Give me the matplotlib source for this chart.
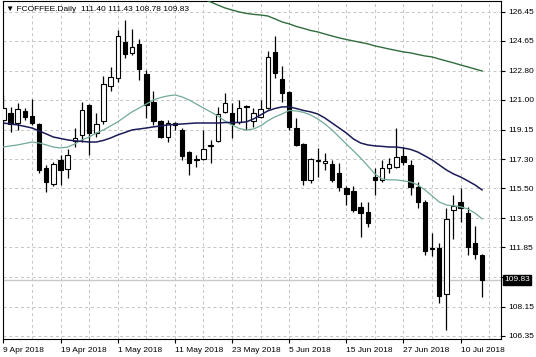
import matplotlib
matplotlib.use('Agg')
import matplotlib.pyplot as plt
import matplotlib.transforms as mtransforms
import numpy as np

plt.rcParams['font.family'] = ['Liberation Sans', 'DejaVu Sans']

# ==== daily candles, 9 Apr 2018 .. 13 Jul 2018 ====
opens = [119.75, 120.18, 119.56, 120.31, 120.00, 119.50, 116.77, 115.78, 117.27, 116.71,
         118.45, 118.82, 120.68, 118.94, 119.69, 121.86, 122.36, 124.59, 123.91, 124.47,
         122.60, 120.87, 119.69, 118.69, 119.56, 119.13, 117.76, 117.33, 117.33, 118.14,
         118.45, 120.25, 120.18, 119.63, 120.62, 119.69, 119.94, 120.49, 123.97, 122.29,
         121.49, 119.25, 118.26, 116.03, 117.18, 117.08, 117.02, 116.46, 115.53, 115.34,
         114.36, 114.04, 116.21, 116.03, 116.77, 116.83, 117.52, 116.96, 115.59, 114.66,
         111.81, 111.81, 108.96, 114.17, 114.66, 113.98, 112.12, 111.40]
highs = [121.30, 120.56, 120.81, 120.49, 121.05, 119.56, 116.96, 117.14, 117.58, 117.95,
         119.25, 120.87, 120.75, 120.18, 122.48, 123.04, 125.33, 125.95, 125.40, 124.78,
         122.85, 121.55, 119.75, 119.75, 119.63, 119.25, 117.82, 117.58, 119.13, 118.51,
         120.56, 121.43, 120.81, 120.99, 120.68, 120.49, 120.99, 124.03, 124.96, 123.10,
         121.55, 119.87, 118.32, 117.39, 118.01, 117.70, 117.27, 117.08, 115.66, 115.66,
         114.66, 114.66, 116.77, 117.27, 117.39, 119.25, 118.07, 117.27, 115.90, 114.79,
         112.74, 112.12, 114.29, 115.10, 115.53, 114.36, 113.17, 111.43]
lows = [119.44, 119.01, 119.13, 119.75, 119.44, 116.46, 115.29, 115.66, 115.72, 116.15,
        118.07, 118.38, 117.58, 118.69, 119.50, 121.55, 122.11, 123.60, 123.78, 122.23,
        119.87, 119.44, 118.63, 118.38, 119.13, 117.27, 116.34, 116.83, 117.27, 117.08,
        118.38, 120.20, 118.63, 119.50, 119.13, 119.32, 119.87, 120.43, 122.36, 120.87,
        119.13, 118.14, 115.72, 115.84, 116.21, 116.65, 115.90, 115.34, 114.48, 114.04,
        112.50, 113.11, 115.10, 115.90, 116.46, 116.77, 116.96, 115.10, 114.29, 111.38,
        111.31, 108.40, 106.72, 112.37, 113.42, 111.38, 111.13, 108.78]
closes = [120.49, 119.50, 120.43, 119.94, 119.56, 116.65, 115.90, 117.02, 116.65, 117.58,
          118.63, 120.37, 118.94, 119.50, 121.98, 122.42, 124.96, 123.84, 124.28, 122.91,
          120.68, 119.69, 118.69, 119.56, 119.44, 117.52, 117.08, 117.27, 117.95, 118.20,
          120.12, 120.81, 119.50, 120.49, 120.56, 120.18, 120.43, 123.66, 122.67, 121.43,
          119.32, 118.20, 116.03, 117.33, 117.24, 117.21, 116.03, 115.59, 115.16, 114.17,
          113.98, 113.36, 116.03, 116.77, 117.02, 117.46, 117.14, 115.59, 114.66, 111.62,
          111.75, 108.83, 113.61, 114.42, 114.29, 111.87, 111.44, 109.83]

# ==== moving averages (as drawn) ====
ma_navy = [119.56, 119.50, 119.44, 119.35, 119.25, 119.07, 118.88, 118.69, 118.60, 118.51,
           118.45, 118.42, 118.38, 118.38, 118.48, 118.63, 118.82, 118.97, 119.13, 119.19,
           119.25, 119.32, 119.38, 119.44, 119.47, 119.50, 119.53, 119.56, 119.56, 119.56,
           119.56, 119.59, 119.59, 119.59, 119.63, 119.81, 120.06, 120.31, 120.46, 120.56,
           120.56, 120.46, 120.34, 120.25, 120.12, 119.87, 119.56, 119.25, 118.94, 118.57,
           118.32, 118.20, 118.14, 118.11, 118.07, 118.07, 118.01, 117.92, 117.76, 117.52,
           117.27, 116.96, 116.65, 116.40, 116.21, 115.97, 115.72, 115.41]
ma_teal = [118.07, 118.14, 118.20, 118.29, 118.38, 118.32, 118.20, 118.07, 118.01, 118.07,
           118.26, 118.51, 118.69, 118.94, 119.13, 119.38, 119.63, 119.94, 120.25, 120.49,
           120.74, 120.99, 121.14, 121.24, 121.30, 121.18, 120.99, 120.74, 120.49, 120.25,
           120.00, 119.69, 119.44, 119.22, 119.13, 119.19, 119.38, 119.69, 119.94, 120.12,
           120.34, 120.31, 120.22, 120.06, 119.81, 119.50, 119.13, 118.69, 118.26, 117.83,
           117.39, 116.90, 116.40, 116.09, 116.03, 116.03, 115.97, 115.90, 115.72, 115.41,
           115.04, 114.66, 114.48, 114.42, 114.36, 114.23, 113.98, 113.61]
ma_long_start = 27
ma_long = [127.32, 127.26, 127.07, 126.88, 126.70, 126.57, 126.45, 126.36, 126.30, 126.26,
           126.20, 126.02, 125.83, 125.71, 125.55, 125.43, 125.30, 125.21, 125.08, 124.96,
           124.84, 124.74, 124.65, 124.56, 124.47, 124.34, 124.25, 124.15, 124.06, 123.97,
           123.91, 123.81, 123.72, 123.66, 123.53, 123.41, 123.29, 123.16, 123.04, 122.91,
           122.79]

price_ticks = [126.45, 124.65, 122.80, 121.00, 119.15, 117.30, 115.50, 113.65, 111.85, 110.00, 108.15, 106.35]
date_labels = ['9 Apr 2018', '19 Apr 2018', '1 May 2018', '11 May 2018', '23 May 2018',
               '5 Jun 2018', '15 Jun 2018', '27 Jun 2018', '10 Jul 2018']
last_price = 109.83
title = '\u25bc FCOFFEE.Daily  111.40 111.43 108.78 109.83'

o = np.array(opens); h = np.array(highs); l = np.array(lows); c = np.array(closes)
x = np.arange(len(o))

fig = plt.figure(figsize=(5.36, 3.57), dpi=100)
ax = fig.add_axes([2.7/536, 18/357, 498.3/536, 338.5/357])

# grid
grid_kw = dict(color='#c4c4c4', lw=0.7, dashes=(3, 3), zorder=0)
for p in price_ticks:
    ax.axhline(p, **grid_kw)
for k in range(4, 70, 4):
    ax.axvline(k, **grid_kw)
ax.axhline(last_price, color='#c8c8c8', lw=1.0, zorder=0.5)

# candles
up = c >= o
ax.vlines(x, l, h, color='black', lw=0.9, zorder=2)
w = 0.62
ax.bar(x[up], (c - o)[up], bottom=o[up], width=w, color='white', edgecolor='black', lw=0.8, zorder=3)
ax.bar(x[~up], (o - c)[~up], bottom=c[~up], width=w, color='black', edgecolor='black', lw=0.8, zorder=3)

# moving averages
ax.plot(x, ma_teal, color='#72aa9a', lw=0.9, zorder=4)
ax.plot(x, ma_navy, color='#1b1b58', lw=1.1, zorder=4)
ax.plot(np.arange(ma_long_start, ma_long_start + len(ma_long)), ma_long, color='#2f6d3c', lw=1.0, zorder=4)

ax.set_xlim(-0.1, 69.65)
ax.set_ylim(106.16, 127.16)

ax.yaxis.tick_right()
ax.set_yticks(price_ticks)
ax.set_yticklabels(['' if p == 110.00 else '%.2f' % p for p in price_ticks])
ax.set_xticks(np.arange(0, 65, 8))
ax.set_xticklabels(date_labels, ha='left')
ax.tick_params(axis='both', labelsize=6, length=3, width=0.8, color='black', pad=2)
ax.tick_params(axis='x', pad=2.5)
for s in ax.spines.values():
    s.set_color('black'); s.set_linewidth(0.8)

# current price box
trans = mtransforms.blended_transform_factory(ax.transAxes, ax.transData)
ax.text(1.006, last_price, '109.83', transform=trans, fontsize=6, color='white',
        ha='left', va='center', zorder=6,
        bbox=dict(boxstyle='square,pad=0.15', fc='black', ec='black'))

ax.text(0.006, 0.985, title, transform=ax.transAxes, fontsize=6, color='black',
        ha='left', va='top', zorder=6)

fig.savefig('out.png', dpi=100)
